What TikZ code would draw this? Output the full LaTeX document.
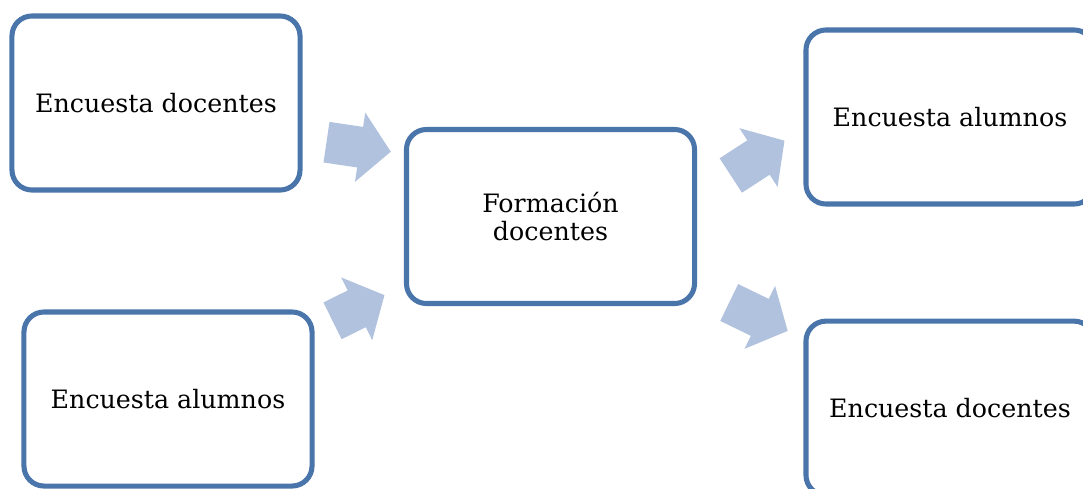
\documentclass[tikz,border=0pt]{standalone}
\usepackage{fontspec}
\setmainfont{DejaVu Serif}
\usetikzlibrary{positioning}

\definecolor{boxblue}{HTML}{4A75AB}
\definecolor{arrowblue}{HTML}{B1C2DE}

\begin{document}
\begin{tikzpicture}[
x=0.025cm, y=-0.025cm,
node distance=2.8cm and 1cm,
box/.style={
draw=boxblue,
line width=3.6pt,
fill=white,
rectangle,
rounded corners=0.5cm,
align=center,
minimum width=7.2cm,
minimum height=4.35cm,
font=\fontsize{18}{20}\selectfont,
inner sep=2pt
},
pics/blockarr/.style={code={
\fill[arrowblue] (0,-20.5) -- (#1-31,-20.5) -- (#1-31,-35) -- (#1,0)
  -- (#1-31,35) -- (#1-31,20.5) -- (0,20.5) -- cycle;
}}
]
\useasboundingbox (0,0) rectangle (1083,488);

\node[box] (docentesA) at (156,103) {Encuesta docentes};
\node[box] (alumnosA) at (168,399) {Encuesta alumnos};

\node[box] (formacion) at (550.5,216.5) {Formación\\docentes};

\node[box] (alumnosB) at (950,117) {Encuesta alumnos};
\node[box] (docentesB) [below=of alumnosB] {Encuesta docentes};

% block arrows (tail centre, then angle and length)
\coordinate (inA) at (326.5,142.2);
\coordinate (inB) at (332.5,320.8);
\coordinate (outA) at (730.8,175.5);
\coordinate (outB) at (729.2,302.5);

\pic[rotate=-8.4] at (inA) {blockarr=65};
\pic[rotate=26.3] at (inB) {blockarr=58};
\pic[rotate=33] at (outA) {blockarr=64};
\pic[rotate=-25.9] at (outB) {blockarr=65};

\end{tikzpicture}
\end{document}
